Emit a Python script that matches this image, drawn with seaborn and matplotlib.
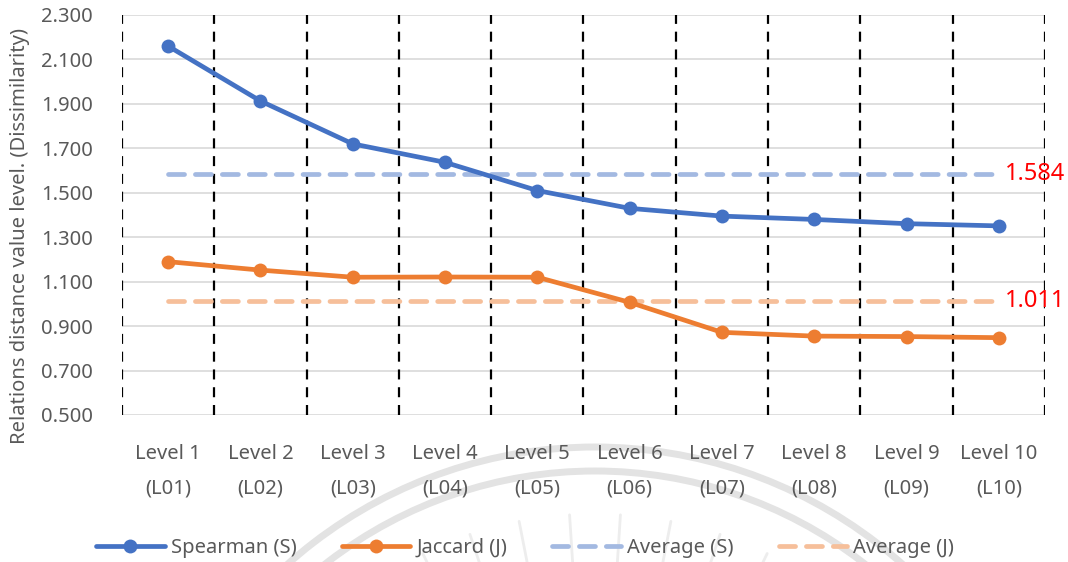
import numpy as np
import pandas as pd
import matplotlib
matplotlib.use("Agg")
import matplotlib.pyplot as plt
from matplotlib.lines import Line2D
from matplotlib.patches import Arc
import seaborn as sns

# ---- data ----
levels = ["Level 1\n(L01)", "Level 2\n(L02)", "Level 3\n(L03)", "Level 4\n(L04)", "Level 5\n(L05)",
          "Level 6\n(L06)", "Level 7\n(L07)", "Level 8\n(L08)", "Level 9\n(L09)", "Level 10\n(L10)"]
spearman = [2.160, 1.913, 1.720, 1.637, 1.510, 1.430, 1.395, 1.380, 1.361, 1.351]
jaccard = [1.190, 1.152, 1.120, 1.121, 1.120, 1.007, 0.872, 0.855, 0.853, 0.848]
avg_spearman = 1.584
avg_jaccard = 1.011
y_ticks = [0.5, 0.7, 0.9, 1.1, 1.3, 1.5, 1.7, 1.9, 2.1, 2.3]

sns.set_theme(style="white")
plt.rcParams["font.family"] = ["Noto Sans", "DejaVu Sans"]

TXT = "#595959"
BLUE = "#4472C4"
ORANGE = "#ED7D31"
BLUE_AVG = "#A3B9E1"
ORANGE_AVG = "#F6BF9A"
FS = 14.5
AVG_DASH = (0, (3.4, 2.3))

fig = plt.figure(figsize=(10.68, 5.62), dpi=100)

# faint seal watermark behind the chart
bg = fig.add_axes([0, 0, 1, 1], zorder=0)
bg.set_xlim(0, 1068)
bg.set_ylim(562, 0)
bg.axis("off")
for r in (462, 438):
    bg.add_patch(Arc((595, 909), 2 * r, 2 * r, theta1=195, theta2=345,
                     color="#e3e3e3", lw=5))
for ang in np.linspace(222, 318, 14):
    a = np.deg2rad(ang)
    x0, y0 = 595 + 330 * np.cos(a), 909 + 330 * np.sin(a)
    x1, y1 = 595 + 395 * np.cos(a), 909 + 395 * np.sin(a)
    bg.plot([x0, x1], [y0, y1], color="#ededed", lw=2)

ax = fig.add_axes([122 / 1068, 1 - 415 / 562, (1045 - 122) / 1068, 400 / 562], zorder=1)
ax.patch.set_alpha(0)

x = np.arange(len(levels))
df = pd.DataFrame({
    "x": np.concatenate([x, x]),
    "value": spearman + jaccard,
    "series": ["Spearman (S)"] * len(x) + ["Jaccard (J)"] * len(x),
})

# horizontal grid
for yv in y_ticks:
    ax.axhline(yv, color="#d9d9d9", lw=1.2, zorder=0)

# category separators
for b in np.arange(-0.5, len(levels), 1.0):
    ax.axvline(b, color="black", lw=1.6, ls=(0, (4.5, 3.5)), zorder=1)

# averages
ax.hlines(avg_spearman, 0, len(x) - 1, color=BLUE_AVG, lw=3.4,
          linestyles=[AVG_DASH], capstyle="round", zorder=2)
ax.hlines(avg_jaccard, 0, len(x) - 1, color=ORANGE_AVG, lw=3.4,
          linestyles=[AVG_DASH], capstyle="round", zorder=2)

sns.lineplot(data=df, x="x", y="value", hue="series", style="series",
             palette={"Spearman (S)": BLUE, "Jaccard (J)": ORANGE},
             markers={"Spearman (S)": "o", "Jaccard (J)": "o"}, dashes=False,
             lw=3.4, markersize=10, markeredgewidth=0, ax=ax, legend=False, zorder=3)
for ln in ax.lines[-2:]:
    ln.set_solid_capstyle("round")

ax.text(len(x) - 1 + 0.07, avg_spearman, f"{avg_spearman:.3f}", color="#FF0000",
        fontsize=17, va="center", ha="left", clip_on=False)
ax.text(len(x) - 1 + 0.07, avg_jaccard, f"{avg_jaccard:.3f}", color="#FF0000",
        fontsize=17, va="center", ha="left", clip_on=False)

ax.set_xlim(-0.5, len(x) - 0.5)
ax.set_ylim(0.5, 2.3)
ax.set_yticks(y_ticks)
ax.set_yticklabels([f"{v:.3f}" for v in y_ticks])
ax.set_xticks(x)
ax.set_xticklabels(levels, linespacing=1.95)
ax.tick_params(axis="y", length=0, pad=21, labelsize=FS, labelcolor=TXT)
ax.tick_params(axis="x", length=0, pad=21, labelsize=FS, labelcolor=TXT)
for s in ax.spines.values():
    s.set_visible(False)
ax.set_xlabel("")
ax.set_ylabel("Relations distance value level. (Dissimilarity)", fontsize=FS, color=TXT)
ax.yaxis.set_label_coords(-0.0995, 0.4475)

handles = [
    Line2D([], [], color=BLUE, lw=3.4, marker="o", markersize=10, markeredgewidth=0),
    Line2D([], [], color=ORANGE, lw=3.4, marker="o", markersize=10, markeredgewidth=0),
    Line2D([], [], color=BLUE_AVG, lw=3.4, ls=AVG_DASH, dash_capstyle="round"),
    Line2D([], [], color=ORANGE_AVG, lw=3.4, ls=AVG_DASH, dash_capstyle="round"),
]
labels = ["Spearman (S)", "Jaccard (J)", "Average (S)", "Average (J)"]
fig.legend(handles, labels, loc="center", bbox_to_anchor=(0.4916, 0.025), ncol=4,
           frameon=False, fontsize=FS, labelcolor=TXT, handlelength=3.4,
           handletextpad=0.3, columnspacing=2.25)

fig.savefig("out.png", dpi=100)
